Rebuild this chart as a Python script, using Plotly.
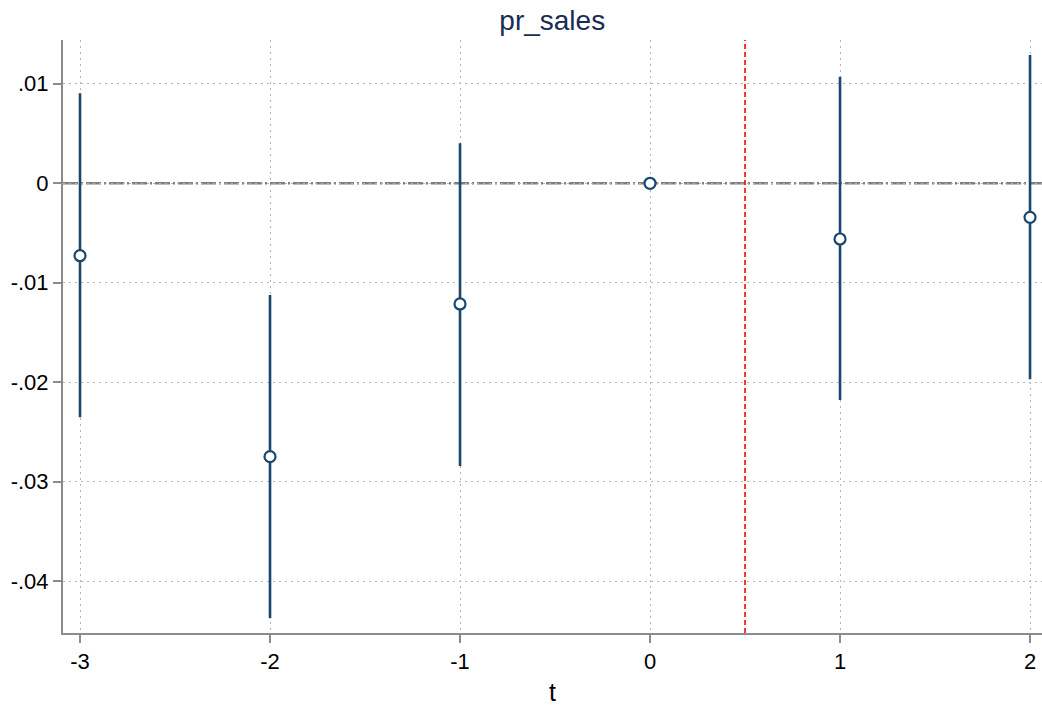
import plotly.graph_objects as go

# Event-time coefficients with 95% confidence bounds
periods = [-3, -2, -1, 0, 1, 2]
coef = [-0.00728, -0.02748, -0.01213, 0.0, -0.0056, -0.00342]
ci_low = [-0.02352, -0.04372, -0.02841, 0.0, -0.02178, -0.0197]
ci_high = [0.00905, -0.01123, 0.00402, 0.0, 0.01071, 0.01289]

y_ticks = [0.01, 0.0, -0.01, -0.02, -0.03, -0.04]
y_tick_text = [".01", "0", "-.01", "-.02", "-.03", "-.04"]
x_ticks = [-3, -2, -1, 0, 1, 2]
event_line = 0.5

navy = "#1a476f"
axis_gray = "#8c8c8c"
grid_gray = "#b4b4b4"

fig = go.Figure()

# confidence interval spikes
for p, lo, hi in zip(periods, ci_low, ci_high):
    if hi != lo:
        fig.add_trace(go.Scatter(
            x=[p, p], y=[lo, hi], mode="lines",
            line=dict(color=navy, width=2.6), showlegend=False, hoverinfo="skip"))

# point estimates
fig.add_trace(go.Scatter(
    x=periods, y=coef, mode="markers",
    marker=dict(symbol="circle", size=11, color="white",
                line=dict(color=navy, width=2.2)),
    showlegend=False))

# reference lines
fig.add_hline(y=0, line=dict(color="#7f7f7f", width=2.4, dash="15px,3px,2px,3px"), layer="below")
fig.add_vline(x=event_line, line=dict(color="#ff0000", width=1.6, dash="5px,3px"))

fig.update_layout(
    width=1042, height=708,
    margin=dict(l=63, r=0, t=40, b=75),
    paper_bgcolor="white", plot_bgcolor="white",
    font=dict(family="Liberation Sans, Arial, sans-serif", color="black", size=22),
    title=dict(text="pr_sales", x=0.53, xanchor="center", y=0.972, yanchor="middle",
               font=dict(size=28, color="#1a2b55")),
    xaxis=dict(
        range=[-3.0895, 2.063], tickvals=x_ticks, ticktext=[str(v) for v in x_ticks],
        tickfont=dict(size=22),
        showgrid=True, gridcolor=grid_gray, griddash="1.5px,4.5px", gridwidth=1,
        showline=True, linecolor=axis_gray, linewidth=2,
        ticks="outside", ticklen=8, tickwidth=2, tickcolor=axis_gray,
        zeroline=False, title=dict(text="t", font=dict(size=25), standoff=10),
    ),
    yaxis=dict(
        range=[-0.0452, 0.0144], tickvals=y_ticks, ticktext=y_tick_text,
        tickfont=dict(size=22),
        showgrid=True, gridcolor=grid_gray, griddash="1.5px,4.5px", gridwidth=1,
        showline=True, linecolor=axis_gray, linewidth=2,
        ticks="outside", ticklen=8, tickwidth=2, tickcolor=axis_gray,
        zeroline=False,
    ),
)

fig.write_html("out.html")
